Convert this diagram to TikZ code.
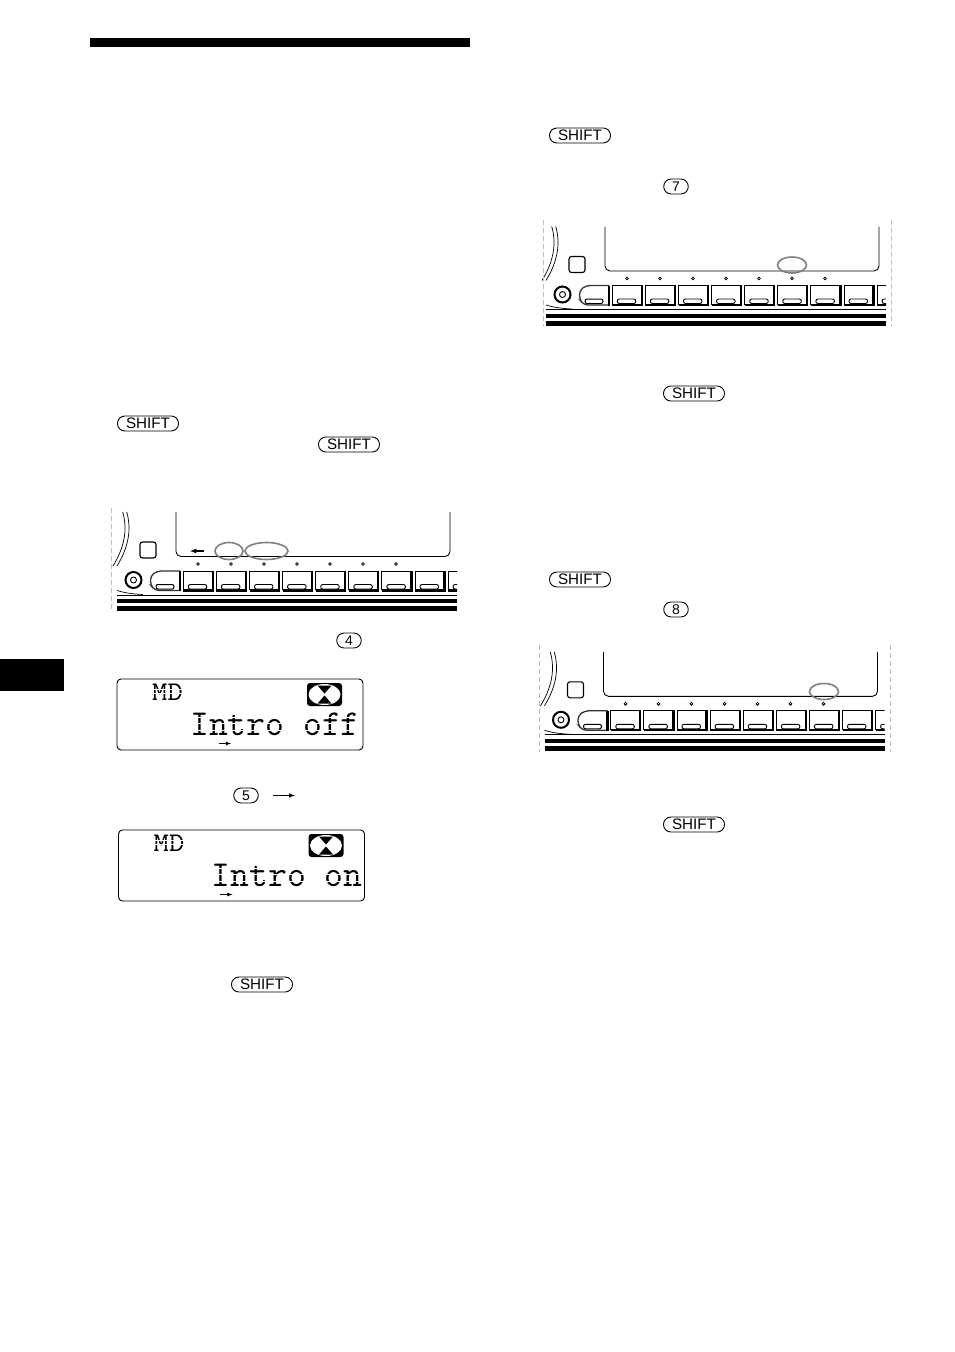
\documentclass[tikz,border=0pt]{standalone}
\usepackage{fontspec}
\setsansfont{Liberation Sans}

\tikzset{
  keycap/.style={draw, line width=.9pt, rounded corners=7.4pt, minimum width=61pt, minimum height=15pt, inner sep=0pt, font=\fontsize{15.2}{15}\sffamily},
  numcap/.style={draw, line width=.9pt, rounded corners=7.4pt, minimum width=24.5pt, minimum height=15pt, inner sep=0pt, font=\fontsize{14}{14}\sffamily},
  lcdbig/.style={anchor=base west, inner sep=0pt, font=\fontsize{36.6}{36}\ttfamily},
  lcdsmall/.style={anchor=base west, inner sep=0pt, xscale=1.1, font=\fontsize{27}{27}\ttfamily},
  oval/.style={draw=black!50, line width=1.6pt},
  thinedge/.style={black!25, dash pattern=on 5pt off 3pt, line width=.5pt}
}

% front panel, drawn at the place of the first one
\newcommand{\frontpanel}[2]{
\begin{scope}[shift={(#1,#2)}]
    \draw[line width=.9pt, rounded corners=5pt] (176,512) -- (176,556.5) -- (450,556.5) -- (450,512);
    \draw[line width=.7pt] (122.7,512) .. controls (128,530) and (124,548) .. (113,566);
    \draw[line width=.7pt] (126.7,512) .. controls (132,530) and (128,548) .. (117,566);
    \draw[line width=1.1pt, rounded corners=2.5pt] (140,542) rectangle (156,558);
    \draw[line width=2pt] (133.5,580) circle (8pt);
    \draw[line width=.9pt] (133.5,580) circle (3pt);
    \foreach \px in {198,231,264,297,330,363,396}
        \draw[line width=.8pt, fill=white] (\px,564) circle (1.4pt);
    \draw[line width=1.3pt, black!80, rounded corners=4pt] (180,571) -- (157,571) -- (150.5,576) -- (150.5,585) -- (155,590.5) -- (180,590.5);
    \draw[line width=2.2pt] (180,571) -- (180,591);
    \draw[line width=1pt, fill=white, rounded corners=2pt] (156,584.5) rectangle (174,589);
    \begin{scope}
        \clip (140,565) rectangle (457,593);
        \foreach \bx in {183.3,216.4,249.5,282.6,315.7,348.8,381.9,415,448.1} {
            \draw[line width=.9pt] (\bx,590) -- (\bx,571) -- (\bx+29.5,571);
            \draw[line width=2.2pt] (\bx+29.5,570.5) -- (\bx+29.5,590.5) -- (\bx,590.5);
            \draw[line width=.9pt, fill=white, rounded corners=2pt] (\bx+5,584.5) rectangle (\bx+23.5,589);
        }
    \end{scope}
    \draw[line width=.7pt] (117,590.5) .. controls (125,593) and (133,594) .. (143,594.5);
    \draw[line width=.8pt] (117,595) -- (457,595);
    \draw[line width=4pt] (117,601) -- (457,601);
    \draw[line width=5pt] (117,608.5) -- (457,608.5);
\end{scope}
}

% display with text, #3 = name, #4 = x of the big text, #5 = big text
\newcommand{\lcdscreen}[5]{
\begin{scope}[shift={(#1,#2)}]
    \draw[line width=.9pt, rounded corners=4pt] (117,679) rectangle (363,750);
    \node[lcdsmall] (#3md) at (152,700) {MD};
    \node[lcdbig] (#3text) at (#4,735.5) {#5};
    \foreach \sy in {689.5,693.5,717,723.5,730}
        \draw[white, line width=.8pt] (120,\sy) -- (360,\sy);
    \fill[rounded corners=3pt] (307,683) rectangle (342,706);
    \fill[white] (324.5,694.5) ellipse [x radius=16pt, y radius=10.5pt];
    \fill (317.5,685.5) -- (331.5,685.5) -- (324.5,693.5) -- cycle;
    \fill (317.5,703.5) -- (331.5,703.5) -- (324.5,695.5) -- cycle;
    \coordinate (#3a) at (218.5,743.5);
    \coordinate (#3b) at (231,743.5);
    \draw[-latex, line width=.8pt] (#3a) -- (#3b);
\end{scope}
}

\begin{document}
\begin{tikzpicture}[x=1pt,y=-1pt]
    \useasboundingbox (0,0) rectangle (954,1352);

    \fill (90,38) rectangle (470,47);
    \fill (0,659) rectangle (64,691);

    \node[keycap] (shifta) at (148,423.5) {SHIFT};
    \node[keycap] (shiftb) at (349,444.5) {SHIFT};
    \node[keycap] (shiftc) at (262,984.5) {SHIFT};
    \node[keycap] (shiftd) at (580,135.5) {SHIFT};
    \node[keycap] (shifte) at (694,393.5) {SHIFT};
    \node[keycap] (shiftf) at (580,579.5) {SHIFT};
    \node[keycap] (shiftg) at (694,824.5) {SHIFT};
    \node[numcap] (numfour) at (349,640.5) {4};
    \node[numcap] (numfive) at (246,795.5) {5};
    \node[numcap] (numseven) at (676,186.5) {7};
    \node[numcap] (numeight) at (676,609.5) {8};

    \frontpanel{0}{0}
    \frontpanel{429}{-285.5}
    \frontpanel{427.5}{139.8}

    \draw[thinedge] (111.5,508) -- (111.5,612);
    \draw[thinedge] (543,220) -- (543,326);
    \draw[thinedge] (891,220) -- (891,326);
    \draw[thinedge] (539.5,645) -- (539.5,752);
    \draw[thinedge] (890,645) -- (890,752);

    \draw[-latex, line width=1.2pt] (204,551) -- (190,551);
    \draw[oval] (229,551) ellipse [x radius=14pt, y radius=8.5pt];
    \draw[oval] (266.5,551) ellipse [x radius=21.5pt, y radius=8.5pt];
    \draw[oval] (792,265) ellipse [x radius=14.5pt, y radius=8pt];
    \draw[oval] (824,691.5) ellipse [x radius=14.5pt, y radius=8pt];

    \lcdscreen{0}{0}{off}{190}{Intro off}
    \lcdscreen{1.5}{151}{on}{210}{Intro on}

    \coordinate (nexta) at (273,795.5);
    \coordinate (nextb) at (295,795.5);
    \draw[-latex, line width=1pt] (nexta) -- (nextb);
\end{tikzpicture}
\end{document}
